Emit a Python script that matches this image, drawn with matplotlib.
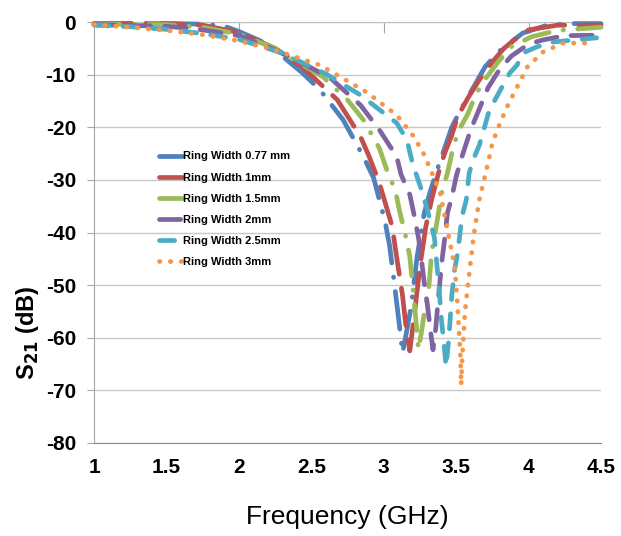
import matplotlib
matplotlib.use("Agg")
import matplotlib.pyplot as plt

# S21 curves, one array pair per ring width
x_077 = [1.0, 1.25, 1.5, 1.75, 1.9, 2.0, 2.15, 2.3, 2.44, 2.56, 2.72, 2.86, 2.93, 3.01, 3.04,
         3.06, 3.10, 3.12, 3.13, 3.15, 3.19, 3.23, 3.28, 3.32, 3.37, 3.42, 3.47, 3.53, 3.62,
         3.7, 3.8, 3.96, 4.13, 4.3, 4.5]
y_077 = [-0.3, -0.3, -0.3, -0.4, -0.8, -1.8, -3.6, -6.5, -9.7, -12.9, -18.6, -25.6, -29.6, -38.0,
         -42.4, -46.7, -55.7, -60.4, -62.9, -60.0, -54.0, -44.7, -36.3, -32.3, -28.0, -24.0,
         -20.0, -16.7, -12.4, -8.5, -5.5, -2.1, -0.6, -0.3, -0.3]

x_1 = [1.0, 1.5, 1.75, 2.0, 2.25, 2.44, 2.68, 2.84, 2.9, 2.97, 3.06, 3.08, 3.13, 3.15, 3.18,
       3.21, 3.25, 3.29, 3.33, 3.38, 3.42, 3.47, 3.51, 3.58, 3.66, 3.75, 3.83, 3.92, 4.0, 4.2, 4.5]
y_1 = [-0.3, -0.3, -0.6, -2.0, -5.0, -8.6, -14.8, -21.8, -25.6, -30.6, -39.0, -43.0, -52.0,
       -57.0, -62.5, -56.0, -46.5, -39.0, -33.8, -28.5, -25.0, -21.5, -18.0, -14.5, -11.0,
       -7.6, -5.0, -3.0, -1.5, -0.6, -0.6]

x_15 = [1.0, 1.5, 1.75, 2.0, 2.25, 2.4, 2.58, 2.75, 2.86, 2.97, 3.02, 3.08, 3.11, 3.15, 3.18,
        3.2, 3.23, 3.24, 3.26, 3.28, 3.31, 3.33, 3.37, 3.4, 3.44, 3.47, 3.51, 3.58, 3.64, 3.71,
        3.79, 3.88, 4.02, 4.2, 4.5]
y_15 = [-0.4, -0.5, -1.0, -2.3, -5.0, -7.5, -10.4, -14.8, -18.6, -24.0, -28.0, -32.0, -36.0,
        -40.5, -44.6, -50.0, -59.0, -62.3, -59.0, -55.3, -51.0, -44.0, -37.6, -32.5, -28.7,
        -25.0, -21.0, -17.5, -13.5, -10.5, -7.6, -4.7, -2.8, -1.6, -1.0]

x_2 = [1.0, 1.5, 1.75, 2.0, 2.25, 2.45, 2.63, 2.84, 2.97, 3.09, 3.12, 3.18, 3.21, 3.24, 3.26,
       3.28, 3.3, 3.32, 3.34, 3.36, 3.37, 3.4, 3.42, 3.44, 3.47, 3.5, 3.54, 3.6, 3.66, 3.72,
       3.8, 3.88, 4.0, 4.1, 4.25, 4.5]
y_2 = [-0.5, -0.8, -1.5, -2.6, -5.3, -8.0, -10.6, -15.8, -20.5, -25.6, -29.0, -32.8, -36.7,
       -41.0, -45.0, -49.6, -53.4, -58.0, -62.3, -58.0, -54.7, -45.8, -41.4, -36.3, -33.3,
       -29.4, -25.6, -20.5, -16.5, -12.5, -9.0, -6.5, -4.2, -3.4, -2.6, -2.5]

x_25 = [1.0, 1.25, 1.5, 1.75, 2.0, 2.3, 2.61, 2.84, 3.09, 3.16, 3.2, 3.25, 3.3, 3.35, 3.38,
        3.40, 3.42, 3.43, 3.45, 3.47, 3.49, 3.51, 3.54, 3.57, 3.59, 3.62, 3.66, 3.73, 3.78,
        3.87, 3.92, 3.96, 4.06, 4.17, 4.47]
y_25 = [-0.6, -0.9, -1.4, -2.2, -3.3, -5.9, -10.0, -13.9, -19.2, -22.4, -27.0, -31.0, -35.5,
        -41.0, -50.0, -57.0, -62.3, -65.5, -60.0, -52.0, -47.0, -44.0, -37.0, -33.8, -28.7,
        -26.0, -23.4, -16.7, -14.2, -9.7, -8.2, -5.9, -4.7, -3.8, -3.0]

x_3 = [1.0, 1.25, 1.5, 1.75, 2.0, 2.21, 2.56, 2.88, 3.09, 3.2, 3.27, 3.33, 3.39, 3.44, 3.49,
       3.51, 3.53, 3.535, 3.54, 3.56, 3.58, 3.62, 3.66, 3.72, 3.75, 3.79, 3.85, 3.92, 3.99,
       4.1, 4.24, 4.45]
y_3 = [-0.5, -1.0, -1.6, -2.4, -3.6, -5.0, -8.2, -13.3, -17.7, -21.5, -24.7, -28.5, -32.5,
       -39.5, -46.5, -54.0, -63.7, -69.0, -64.8, -55.3, -50.3, -40.8, -33.8, -26.8, -23.0,
       -20.1, -16.2, -12.4, -8.6, -5.7, -4.0, -4.0]

labels = ["Ring Width 0.77 mm", "Ring Width 1mm", "Ring Width 1.5mm",
          "Ring Width 2mm", "Ring Width 2.5mm", "Ring Width 3mm"]

x_ticks = [1, 1.5, 2, 2.5, 3, 3.5, 4, 4.5]
y_ticks = [0, -10, -20, -30, -40, -50, -60, -70, -80]

colors = ["#4F81BD", "#C0504D", "#9BBB59", "#8064A2", "#4BACC6", "#F79646"]
dashes = [(8, 3, 0.1, 3), (8, 3), (5.5, 3, 0.1, 3), (4.5, 3), (3.2, 3), (0.1, 2.2)]

plt.rcParams["font.family"] = ["Liberation Sans", "DejaVu Sans"]
plt.rcParams["axes.unicode_minus"] = False

fig = plt.figure(figsize=(6.21, 5.36), dpi=100)
ax = fig.add_axes([94 / 621, 1 - 443 / 536, (601 - 94) / 621, (443 - 22) / 536])

series = [(x_077, y_077), (x_1, y_1), (x_15, y_15), (x_2, y_2), (x_25, y_25), (x_3, y_3)]
for (xs, ys), lab, col, ds in zip(series, labels, colors, dashes):
    ax.plot(xs, ys, color=col, linewidth=3.4, dashes=ds, dash_capstyle="round",
            solid_capstyle="round", label=lab, clip_on=False, zorder=3)

ax.set_xlim(1, 4.5)
ax.set_ylim(-80, 0)
ax.set_xticks(x_ticks)
ax.set_xticklabels([f"{v:g}" for v in x_ticks])
ax.set_yticks(y_ticks)

ax.grid(True, axis="y", color="#C8C8C8", linewidth=1.0)
ax.set_axisbelow(True)
ax.spines["right"].set_visible(False)
ax.spines["left"].set_color("#A6A6A6")
ax.spines["top"].set_color("#BFBFBF")
ax.spines["bottom"].set_color("#8C8C8C")

ax.tick_params(axis="x", length=0, pad=11, labelsize=15)
ax.tick_params(axis="y", length=5, color="#A6A6A6", direction="out", pad=8, labelsize=15)
for lab in ax.get_xticklabels() + ax.get_yticklabels():
    lab.set_fontweight("bold")

top = ax.secondary_xaxis("top")
top.set_xticks([2, 3, 4])
top.tick_params(direction="in", length=8, color="#A6A6A6", labeltop=False)
top.spines["top"].set_visible(False)

ax.set_xlabel("Frequency (GHz)", fontsize=19, labelpad=20)
ax.set_ylabel("S$_{\\mathbf{21}}$ (dB)", fontsize=17, fontweight="bold")
ax.yaxis.set_label_coords((41 - 94) / 507, (443 - 333) / 421)

leg = ax.legend(loc="upper left", bbox_to_anchor=(155 / 621, 1 - 147 / 536),
                bbox_transform=fig.transFigure, frameon=False, handlelength=2.0,
                handletextpad=0.1, labelspacing=1.0, borderaxespad=0,
                prop={"size": 8, "weight": "bold"})

fig.savefig("out.png", dpi=100)
